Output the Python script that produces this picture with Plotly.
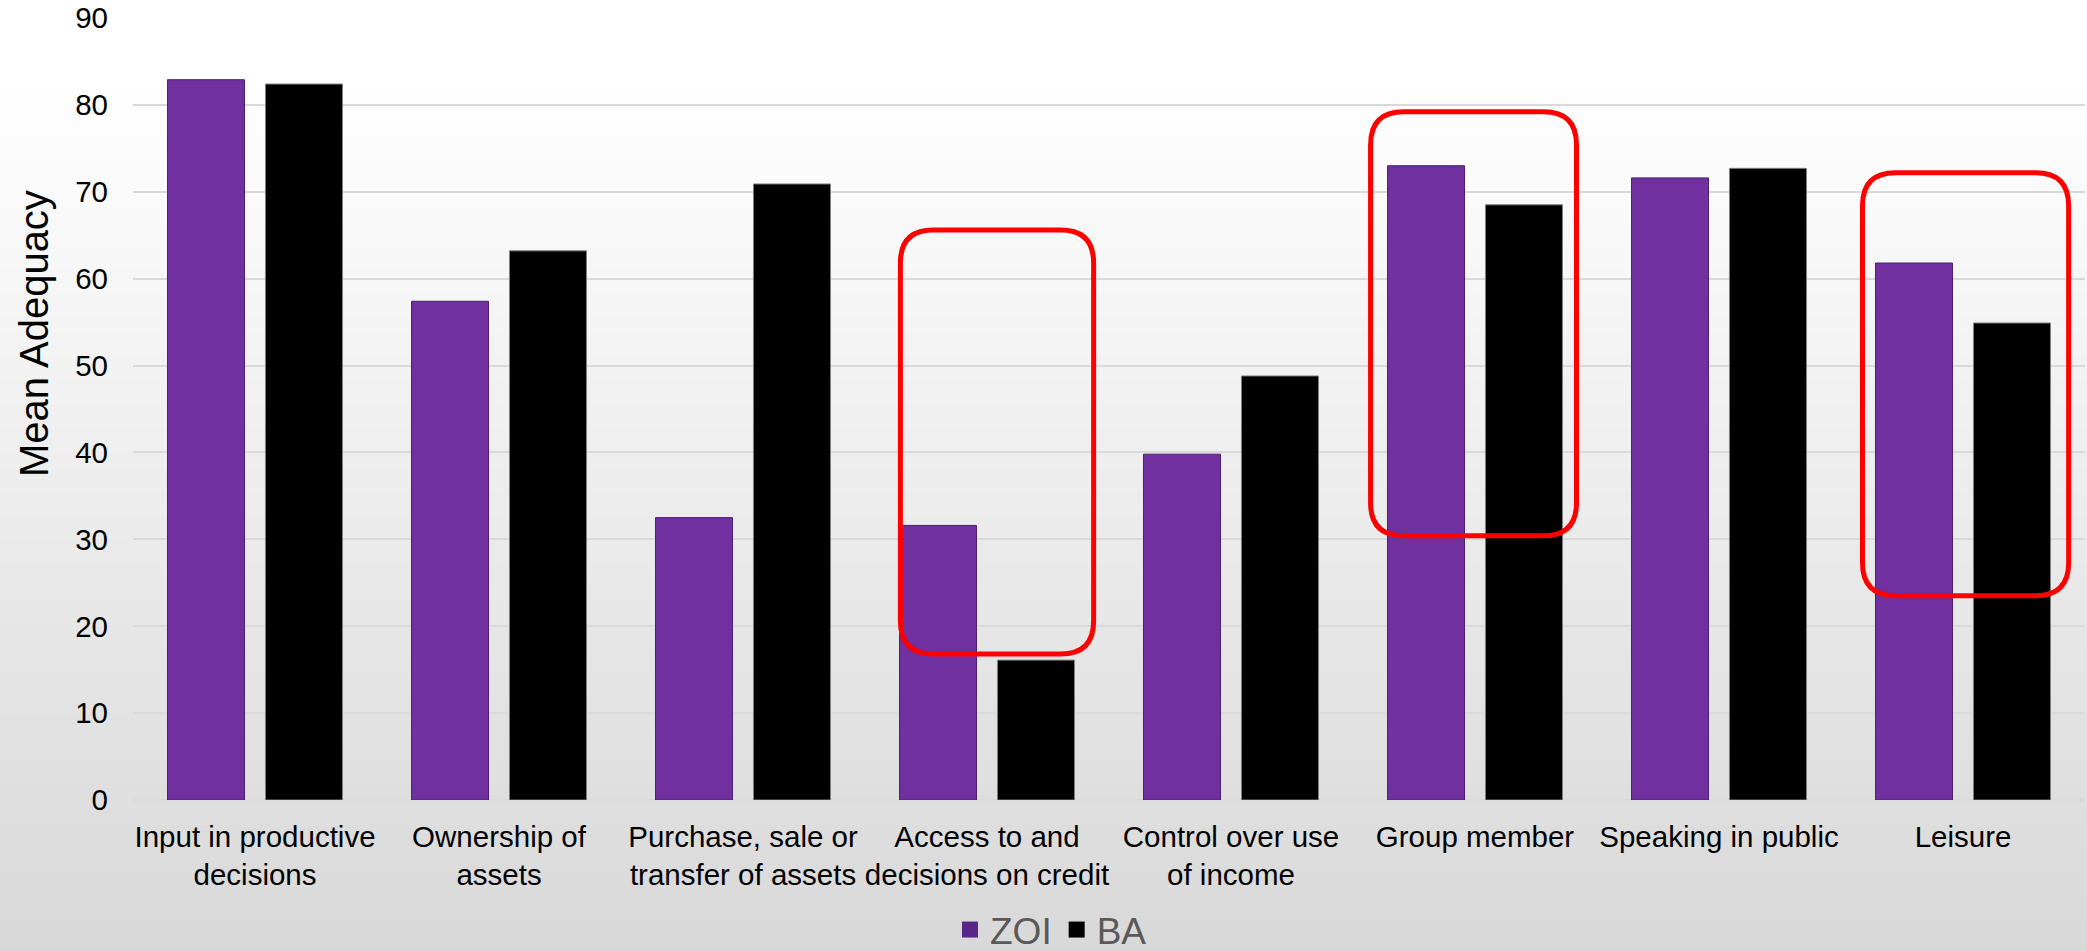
import plotly.graph_objects as go

categories = [
    "Input in productive<br>decisions",
    "Ownership of<br>assets",
    "Purchase, sale or<br>transfer of assets",
    "Access to and<br>decisions on credit",
    "Control over use<br>of income",
    "Group member",
    "Speaking in public",
    "Leisure",
]
zoi = [82.9, 57.4, 32.5, 31.6, 39.8, 73.0, 71.6, 61.8]
ba = [82.4, 63.2, 70.9, 16.1, 48.8, 68.5, 72.7, 54.9]
y_ticks = [0, 10, 20, 30, 40, 50, 60, 70, 80, 90]

# highlighted groups (x in category index units, y in data units)
highlight_x0 = [2.645, 4.572, 6.588]
highlight_x1 = [3.437, 5.416, 7.433]
highlight_y0 = [16.8, 30.4, 23.5]
highlight_y1 = [65.6, 79.2, 72.2]

W, H = 2087, 951
ML, MR, MT, MB = 133, 2, 18, 151
PW, PH = W - ML - MR, H - MT - MB

idx = list(range(len(categories)))

fig = go.Figure()
fig.add_trace(go.Bar(
    x=idx, y=zoi, name="ZOI", showlegend=False,
    marker=dict(color="#7030a0", line=dict(color="#4b2070", width=1)),
))
fig.add_trace(go.Bar(
    x=idx, y=ba, name="BA", showlegend=False,
    marker=dict(color="#000000", line=dict(color="#808080", width=1)),
))
# legend entries
fig.add_trace(go.Scatter(x=[None], y=[None], mode="markers", name="ZOI",
                         marker=dict(symbol="square", size=20, color="#5a2687")))
fig.add_trace(go.Scatter(x=[None], y=[None], mode="markers", name="BA",
                         marker=dict(symbol="square", size=20, color="#000000")))

shapes = []
# background gradient (white at top to light grey at bottom)
n = 120
for i in range(n):
    py0 = H * i / n
    py1 = H * (i + 1) / n + 0.6
    mid = (py0 + py1) / 2
    t = max(0.0, (mid - 80) / (H - 80))
    c = round(255 - 39 * t)
    shapes.append(dict(
        type="rect", xref="paper", yref="paper", layer="below",
        x0=-ML / PW - 0.01, x1=1 + MR / PW + 0.01,
        y0=1 - (py1 - MT) / PH, y1=1 - (py0 - MT) / PH,
        fillcolor=f"rgb({c},{c},{c})", line=dict(width=0),
    ))

# rounded red highlight boxes
rx = 33 / (PW / 8.0)
ry = 33 / (PH / 90.0)
for x0, x1, y0, y1 in zip(highlight_x0, highlight_x1, highlight_y0, highlight_y1):
    path = (
        f"M {x0 + rx},{y1} L {x1 - rx},{y1} Q {x1},{y1} {x1},{y1 - ry} "
        f"L {x1},{y0 + ry} Q {x1},{y0} {x1 - rx},{y0} "
        f"L {x0 + rx},{y0} Q {x0},{y0} {x0},{y0 + ry} "
        f"L {x0},{y1 - ry} Q {x0},{y1} {x0 + rx},{y1} Z"
    )
    shapes.append(dict(type="path", xref="x", yref="y", path=path, layer="above",
                       line=dict(color="#ff0000", width=5), fillcolor="rgba(0,0,0,0)"))

font_family = "Liberation Sans, Arial, sans-serif"

fig.update_layout(
    width=W, height=H,
    margin=dict(l=ML, r=MR, t=MT, b=MB, autoexpand=False),
    paper_bgcolor="#ffffff",
    plot_bgcolor="rgba(0,0,0,0)",
    barmode="group",
    bargap=0.197,
    bargroupgap=0.214,
    font=dict(family=font_family, color="#000000"),
    shapes=shapes,
    xaxis=dict(
        range=[-0.5, 7.5], tickmode="array", tickvals=idx, ticktext=categories,
        showgrid=False, zeroline=False, showline=False, ticks="",
        tickfont=dict(size=29.5, color="#000000"), ticklabelstandoff=16,
    ),
    yaxis=dict(
        range=[0, 90], tickmode="array", tickvals=y_ticks,
        showgrid=True, gridcolor="#d9d9d9", gridwidth=2,
        zeroline=True, zerolinecolor="#d9d9d9", zerolinewidth=2,
        showline=False, ticks="", tickfont=dict(size=29.5, color="#000000"),
        ticklabelstandoff=24,
    ),
    legend=dict(
        orientation="h", xanchor="center", x=(1051 - ML) / PW,
        yanchor="middle", y=(MT + PH - 930) / PH,
        font=dict(size=37, color="#595959", family=font_family),
        bgcolor="rgba(0,0,0,0)", itemwidth=30, tracegroupgap=0,
    ),
    annotations=[dict(
        text="Mean Adequacy", xref="paper", yref="paper",
        x=(34 - ML) / PW, y=(MT + PH - 334) / PH,
        xanchor="center", yanchor="middle", textangle=-90, showarrow=False,
        font=dict(size=40, color="#000000", family=font_family),
    )],
)

fig.write_html(
    "out.html",
    config={"displayModeBar": False},
    post_script="document.body.style.margin='0';document.body.style.overflow='hidden';",
)
